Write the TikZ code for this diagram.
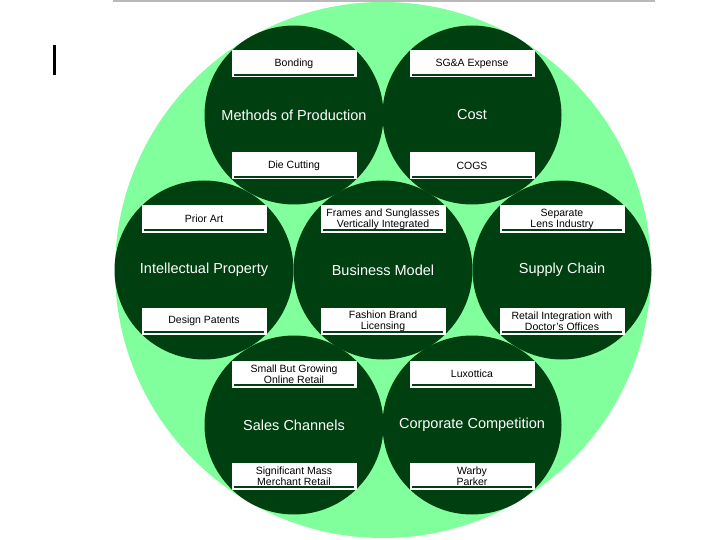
\documentclass[tikz,border=0pt]{standalone}
\usepackage{fontspec}
\setmainfont{Liberation Sans}
\definecolor{pale}{RGB}{128,255,156}
\definecolor{forest}{RGB}{0,64,16}

\begin{document}
\begin{tikzpicture}[x=1pt,y=-1pt,
	topic/.style={circle,fill=forest,minimum size=179pt,inner sep=0pt,text=white,font=\fontsize{14.5}{17}\selectfont},
	tag/.style={fill=white,minimum width=125pt,minimum height=27pt,inner sep=0pt,align=center,font=\fontsize{10.5}{11}\selectfont}]
			\useasboundingbox (0,0) rectangle (720,540);
			\draw[gray!55,line width=2pt] (113,1) -- (655,1);
			\fill (53,45) rectangle (56,75);
			\fill[pale] (383,270) circle (268pt);

			\foreach \x/\y/\n/\main/\up/\down in {
				294/115/mop/Methods of Production/Bonding/Die Cutting,
				472/115/cost/Cost/SG\&A Expense/COGS,
				204/270/ip/Intellectual Property/Prior Art/Design Patents,
				383/270/bm/Business Model/{Frames and Sunglasses\\Vertically Integrated}/{Fashion Brand\\Licensing},
				562/270/sc/Supply Chain/{Separate\\Lens Industry}/{Retail Integration with\\Doctor's Offices},
				294/425/sales/Sales Channels/{Small But Growing\\Online Retail}/{Significant Mass\\Merchant Retail},
				472/425/comp/Corporate Competition/Luxottica/{Warby\\Parker}}
			{
				\node[topic] (\n) at (\x,\y) {\main};
				\node[tag] (\n-up) at (\x,\y-51) {\up};
				\node[tag] (\n-down) at (\x,\y+51) {\down};
				\draw[forest,line width=1.5pt] ([xshift=3pt,yshift=2.5pt]\n-up.south west) -- ([xshift=-3pt,yshift=2.5pt]\n-up.south east);
				\draw[forest,line width=1.5pt] ([xshift=3pt,yshift=2.5pt]\n-down.south west) -- ([xshift=-3pt,yshift=2.5pt]\n-down.south east);
			}
		\end{tikzpicture}
\end{document}
